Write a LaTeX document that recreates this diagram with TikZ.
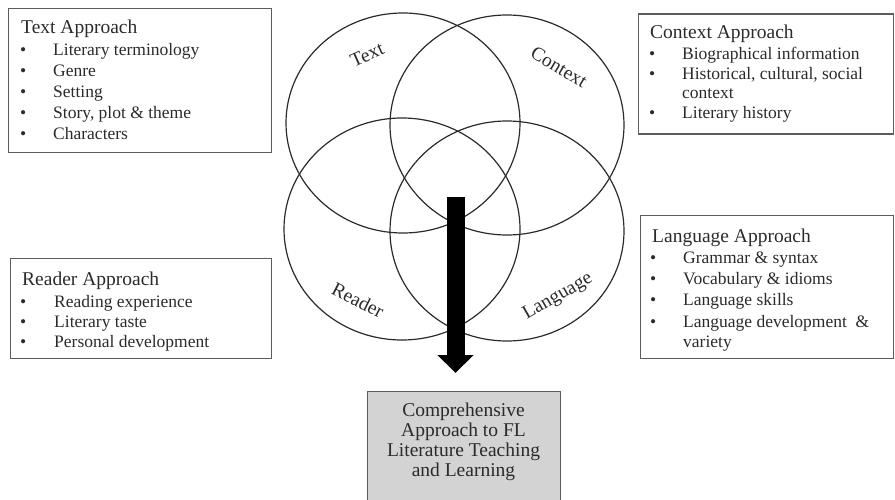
\documentclass[tikz,border=0pt]{standalone}
\usepackage{fontspec}
\setmainfont{Liberation Serif}
\usetikzlibrary{arrows.meta}
\definecolor{ink}{HTML}{2B2B2B}
\definecolor{framec}{HTML}{5C5C5C}
\definecolor{boxfill}{HTML}{D3D3D3}
\begin{document}
\begin{tikzpicture}[x=1pt,y=-1pt,
  apbox/.style={draw=framec,line width=1.4pt,anchor=north west,inner sep=0pt},
  ttl/.style={anchor=base west,inner sep=0pt,text=ink,font=\fontsize{19.5}{22}\selectfont},
  itm/.style={anchor=base west,inner sep=0pt,text=ink,font=\fontsize{17.5}{20}\selectfont},
  venn/.style={draw=ink,line width=1.2pt},
  vlab/.style={text=ink,font=\fontsize{19.5}{22}\selectfont,inner sep=0pt}]
\useasboundingbox (0,0) rectangle (895,500);

% Venn ellipses
\draw[venn] (403,123) ellipse [x radius=117pt, y radius=110pt];
\draw[venn] (507,125) ellipse [x radius=117pt, y radius=110pt];
\draw[venn] (402,229) ellipse [x radius=118pt, y radius=111pt];
\draw[venn] (507,231) ellipse [x radius=117pt, y radius=110pt];

% Venn labels
\node[vlab,rotate=24] (ltext) at (367,55) {Text};
\node[vlab,rotate=-31] (lcontext) at (559,67) {Context};
\node[vlab,rotate=-27] (lreader) at (358,300) {Reader};
\node[vlab,rotate=30] (llang) at (558,297) {Language};

% Arrow
\coordinate (arrtop) at (455.5,197);
\coordinate (arrtip) at (455.5,373);
\draw[black,line width=18pt,-{Triangle[width=35pt,length=18pt]}] (arrtop) -- (arrtip);

% Output box
\node[draw=framec,fill=boxfill,line width=1.4pt,anchor=north west,inner sep=0pt,
      minimum width=193pt,minimum height=112pt] (outbox) at (367,391) {};
\node[align=center,text=ink,font=\fontsize{19.5}{19.8}\selectfont,inner sep=0pt] (outtext) at (463.5,442)
  {Comprehensive\\Approach to FL\\Literature Teaching\\and Learning};

% Text Approach
\node[apbox,minimum width=263pt,minimum height=144pt] (tbox) at (8,8) {};
\node[ttl] (tt) at (21,34) {Text Approach};
\node[itm] (tb1) at (20,56) {•};  \node[itm] (t1) at (53,56) {Literary terminology};
\node[itm] (tb2) at (20,77) {•};  \node[itm] (t2) at (53,77) {Genre};
\node[itm] (tb3) at (20,98) {•};  \node[itm] (t3) at (53,98) {Setting};
\node[itm] (tb4) at (20,119) {•}; \node[itm] (t4) at (53,119) {Story, plot \& theme};
\node[itm] (tb5) at (20,140) {•}; \node[itm] (t5) at (53,140) {Characters};

% Context Approach
\node[apbox,minimum width=255pt,minimum height=120pt] (cbox) at (638,13.5) {};
\node[ttl] (ct) at (650,39) {Context Approach};
\node[itm] (cb1) at (649,60) {•};  \node[itm] (c1) at (682,60) {Biographical information};
\node[itm] (cb2) at (649,80) {•};  \node[itm] (c2) at (682,80) {Historical, cultural, social};
\node[itm] (c2b) at (682,99) {context};
\node[itm] (cb3) at (649,119) {•}; \node[itm] (c3) at (682,119) {Literary history};

% Reader Approach
\node[apbox,minimum width=261pt,minimum height=100pt] (rbox) at (10,258) {};
\node[ttl] (rt) at (22,285) {Reader Approach};
\node[itm] (rb1) at (20,307) {•}; \node[itm] (r1) at (54,307) {Reading experience};
\node[itm] (rb2) at (20,327) {•}; \node[itm] (r2) at (54,327) {Literary taste};
\node[itm] (rb3) at (20,347) {•}; \node[itm] (r3) at (54,347) {Personal development};

% Language Approach
\node[apbox,minimum width=253pt,minimum height=143pt] (lbox) at (640,215) {};
\node[ttl] (lt) at (652,242) {Language Approach};
\node[itm] (lb1) at (650,263) {•}; \node[itm] (l1) at (683,263) {Grammar \& syntax};
\node[itm] (lb2) at (650,284) {•}; \node[itm] (l2) at (683,284) {Vocabulary \& idioms};
\node[itm] (lb3) at (650,305) {•}; \node[itm] (l3) at (683,305) {Language skills};
\node[itm] (lb4) at (650,327) {•}; \node[itm] (l4) at (683,327) {Language development\ \ \&};
\node[itm] (l4b) at (683,347) {variety};
\end{tikzpicture}
\end{document}
